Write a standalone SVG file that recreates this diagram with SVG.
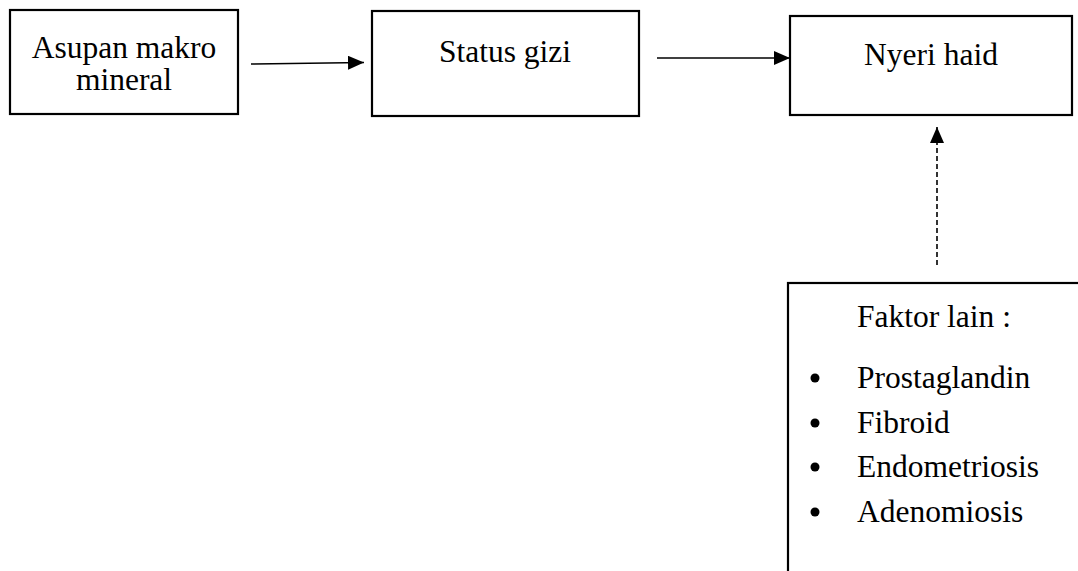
<svg xmlns="http://www.w3.org/2000/svg" width="1078" height="571" viewBox="0 0 1078 571">
<style>
.box{fill:#fff;stroke:#000;stroke-width:2.2}
text{font-family:"Liberation Serif","Times New Roman",serif;font-size:31.5px;fill:#000}
.c{text-anchor:middle}
.ln{stroke:#000;stroke-width:1.6;fill:none}
</style>
<defs>
<marker id="ah" viewBox="0 0 16 14" refX="16" refY="7" markerWidth="16" markerHeight="14" markerUnits="userSpaceOnUse" orient="auto"><path d="M0,0 L16,7 L0,14 Z" fill="#000"/></marker>
</defs>
<rect width="1078" height="571" fill="#fff"/>
<g id="n1"><rect class="box" x="10" y="10" width="228" height="104"/><text class="c" x="124" y="58">Asupan makro</text><text class="c" x="124" y="90">mineral</text></g>
<g id="n2"><rect class="box" x="372" y="11" width="267" height="105"/><text class="c" x="505" y="62">Status gizi</text></g>
<g id="n3"><rect class="box" x="790" y="16" width="282" height="99"/><text class="c" x="931" y="65">Nyeri haid</text></g>
<g id="n4"><rect class="box" x="788" y="283" width="300" height="300"/>
<text x="857" y="327">Faktor lain :</text>
<circle cx="815" cy="378" r="4.5"/><text x="857" y="388">Prostaglandin</text>
<circle cx="815" cy="423" r="4.5"/><text x="857" y="433">Fibroid</text>
<circle cx="815" cy="467" r="4.5"/><text x="857" y="477">Endometriosis</text>
<circle cx="815" cy="512" r="4.5"/><text x="857" y="522">Adenomiosis</text>
</g>
<g id="connectors">
<line class="ln" x1="251" y1="64" x2="364" y2="62.5" marker-end="url(#ah)"/>
<line class="ln" x1="657" y1="58" x2="790" y2="58" marker-end="url(#ah)"/>
<line class="ln" x1="937" y1="265" x2="937" y2="127" stroke-dasharray="5,3" marker-end="url(#ah)"/>
</g>
</svg>
